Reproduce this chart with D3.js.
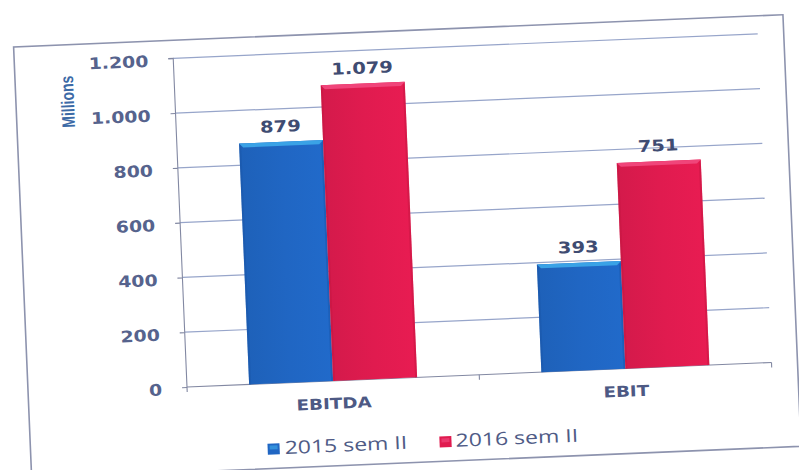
<!DOCTYPE html>
<html>
<head>
<meta charset="utf-8">
<script src="https://cdn.jsdelivr.net/npm/d3@7"></script>
<style>
  html, body { margin: 0; padding: 0; background: #ffffff; }
  svg { display: block; }
</style>
</head>
<body>
<svg id="chart" width="799" height="470"></svg>
<script>
// ---- Data ----
const categories = ["EBITDA", "EBIT"];
const seriesNames = ["2015 sem II", "2016 sem II"];
const values2015 = [879, 393];
const values2016 = [1079, 751];
const yTickValues = [0, 200, 400, 600, 800, 1000, 1200];
const yAxisTitle = "Millions";

// ---- Style ----
const seriesColors = { "2015 sem II": "#2066c3", "2016 sem II": "#e01b4f" };
const bevelColors = { "2015 sem II": "#3aa2e6", "2016 sem II": "#f0457a" };
const edgeColors = { "2015 sem II": "#1a56a8", "2016 sem II": "#c41540" };

const locale = d3.formatLocale({ decimal: ",", thousands: ".", grouping: [3], currency: ["", "€"] });
const fmt = locale.format(",d");

const svg = d3.select("#chart");
const W = 799, H = 470;
svg.append("rect").attr("width", W).attr("height", H).attr("fill", "#ffffff");

const plot = { left: 187, right: 772, top: 58, bottom: 387 };
const root = svg.append("g").attr("transform", `rotate(-2.4, ${plot.left}, ${plot.bottom})`);

// outer chart border
root.append("rect")
  .attr("x", 28).attr("y", 40).attr("width", 770).attr("height", 432)
  .attr("fill", "none").attr("stroke", "#8d93ae").attr("stroke-width", 1.6);

const x0 = d3.scaleBand().domain(categories).range([plot.left, plot.right]).paddingInner(0).paddingOuter(0);
const x1 = d3.scaleBand().domain(seriesNames).range([0, x0.bandwidth()]).paddingInner(0).paddingOuter(0.74);
const y = d3.scaleLinear().domain([0, 1200]).range([plot.bottom, plot.top]);

// gridlines
root.append("g").selectAll("line").data(yTickValues.filter(v => v > 0)).join("line")
  .attr("x1", plot.left).attr("x2", plot.right)
  .attr("y1", d => y(d)).attr("y2", d => y(d))
  .attr("stroke", "#97a5ca").attr("stroke-width", 1.2);

// y axis
const yAxis = d3.axisLeft(y).tickValues(yTickValues).tickSize(5).tickFormat("");
const yAxisG = root.append("g").attr("transform", `translate(${plot.left},0)`).call(yAxis);
yAxisG.selectAll("path, line").attr("stroke", "#8288a2").attr("stroke-width", 1.1);
yAxisG.select(".domain").attr("d", `M-5,${plot.top}H0V${plot.bottom}`);

// text helper (scan is stretched horizontally)
function stretchedText(parent, x, yy, txt, opts) {
  return parent.append("text")
    .attr("transform", `translate(${x},${yy}) scale(${opts.sx || 1},1)`)
    .attr("text-anchor", opts.anchor || "start")
    .attr("font-family", opts.family || "'DejaVu Sans', sans-serif")
    .attr("font-weight", opts.weight || "bold")
    .attr("font-size", opts.size || 16)
    .attr("fill", opts.fill || "#4e5b85")
    .text(txt);
}
yTickValues.forEach(v => {
  stretchedText(root, 162, y(v) + 7.5, fmt(v), { anchor: "end", size: 16, sx: 1.18, fill: "#56638d" });
});

// y axis title
root.append("text")
  .attr("transform", `translate(86,97) scale(1.3,1) rotate(-90)`)
  .attr("text-anchor", "middle")
  .attr("font-family", "'Liberation Sans', Arial, sans-serif")
  .attr("font-weight", "bold").attr("font-size", 14)
  .attr("fill", "#3c6aa6")
  .text(yAxisTitle);

// x axis
const xAxis = d3.axisBottom(x0).tickSize(0).tickFormat("");
const xAxisG = root.append("g").attr("transform", `translate(0,${plot.bottom})`).call(xAxis);
xAxisG.select(".domain").attr("stroke", "#8288a2").attr("stroke-width", 1.1)
  .attr("d", `M${plot.left},0H${plot.right}`);
const boundaries = [plot.left].concat(categories.map(c => x0(c) + x0.bandwidth()));
root.append("g").selectAll("line").data(boundaries).join("line")
  .attr("x1", d => d).attr("x2", d => d)
  .attr("y1", plot.bottom).attr("y2", plot.bottom + 5)
  .attr("stroke", "#8288a2").attr("stroke-width", 1.1);

// category labels
categories.forEach(c => {
  stretchedText(root, x0(c) + x0.bandwidth() / 2, plot.bottom + 28, c, { anchor: "middle", size: 15, sx: 1.22, fill: "#4d5984" });
});

// bars
const barData = [];
categories.forEach((c, i) => {
  barData.push({ cat: c, series: seriesNames[0], value: values2015[i] });
  barData.push({ cat: c, series: seriesNames[1], value: values2016[i] });
});

const defs = svg.append("defs");
seriesNames.forEach((s, i) => {
  const g = defs.append("linearGradient").attr("id", "grad" + i).attr("x1", "0").attr("x2", "1").attr("y1", "0").attr("y2", "0");
  const base = d3.color(seriesColors[s]);
  g.append("stop").attr("offset", "0%").attr("stop-color", base.darker(0.15));
  g.append("stop").attr("offset", "50%").attr("stop-color", base);
  g.append("stop").attr("offset", "100%").attr("stop-color", base.brighter(0.1));
});

const barsG = root.append("g");
const bw = x1.bandwidth();
const bev = 4;
barData.forEach(d => {
  const bx = x0(d.cat) + x1(d.series);
  const by = y(d.value);
  const bh = y(0) - by;
  const idx = seriesNames.indexOf(d.series);
  const g = barsG.append("g");
  g.append("rect").attr("x", bx).attr("y", by).attr("width", bw).attr("height", bh)
    .attr("fill", `url(#grad${idx})`);
  g.append("path")
    .attr("d", `M${bx},${by}H${bx + bw}L${bx + bw - bev},${by + bev}H${bx + bev}Z`)
    .attr("fill", bevelColors[d.series]);
  g.append("path")
    .attr("d", `M${bx},${by}L${bx + bev / 2},${by + bev}V${by + bh}H${bx}Z`)
    .attr("fill", edgeColors[d.series]).attr("opacity", 0.5);
  g.append("path")
    .attr("d", `M${bx + bw},${by}L${bx + bw - bev / 2},${by + bev}V${by + bh}H${bx + bw}Z`)
    .attr("fill", edgeColors[d.series]).attr("opacity", 0.5);
  stretchedText(root, bx + bw / 2, by - 10, fmt(d.value), { anchor: "middle", size: 16, sx: 1.22, fill: "#3f4c72" });
});

// legend
const legendItems = [
  { name: seriesNames[0], sq: 265, tx: 282 },
  { name: seriesNames[1], sq: 437, tx: 453 }
];
legendItems.forEach(it => {
  root.append("rect").attr("x", it.sq).attr("y", 447).attr("width", 12).attr("height", 11)
    .attr("fill", seriesColors[it.name]);
  root.append("rect").attr("x", it.sq + 2).attr("y", 449).attr("width", 8).attr("height", 4)
    .attr("fill", bevelColors[it.name]).attr("opacity", 0.7);
  stretchedText(root, it.tx, 458, it.name, { anchor: "start", size: 18, sx: 1.28, weight: "normal", family: "'Open Sans', sans-serif", fill: "#4f5b86" });
});
</script>
</body>
</html>
